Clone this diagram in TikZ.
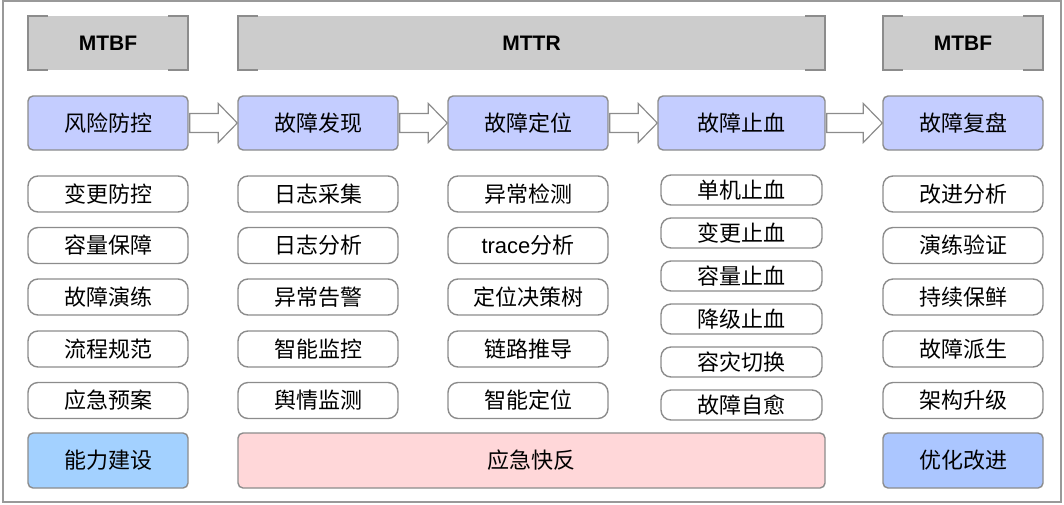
\documentclass[tikz,border=0pt]{standalone}
\usepackage{fontspec}
\setmainfont{Noto Sans CJK SC}
\newfontfamily\latfont{Liberation Sans}
\usetikzlibrary{calc}
\definecolor{bordergray}{HTML}{8C8C8C}
\definecolor{framegray}{HTML}{999999}
\definecolor{hdrgray}{HTML}{CCCCCC}
\definecolor{lavender}{HTML}{C4CDFF}
\definecolor{skyblue}{HTML}{A3D1FF}
\definecolor{periblue}{HTML}{ABC6FF}
\definecolor{pinkfill}{HTML}{FFD7D9}
\tikzset{
  base/.style={inner sep=0pt, font=\fontsize{22}{26}\selectfont, text=black},
  hdr/.style={base, fill=hdrgray, minimum height=54pt, font=\latfont\bfseries\fontsize{21}{24}\selectfont},
  hdrline/.style={draw=bordergray, line width=1.6pt},
  stage/.style={base, draw=bordergray, line width=1.4pt, fill=lavender, rounded corners=5pt, minimum width=160pt, minimum height=54pt},
  sub/.style={base, draw=bordergray, line width=1.4pt, fill=white, rounded corners=10pt, minimum width=160pt, minimum height=36pt},
  subs/.style={base, draw=bordergray, line width=1.4pt, fill=white, rounded corners=10pt, minimum width=161pt, minimum height=30pt},
  bottom/.style={base, draw=bordergray, line width=1.4pt, rounded corners=5pt, minimum height=55pt},
  barrow/.style={draw=bordergray, line width=1.2pt, fill=white, line join=miter},
}
\newcommand\blockarrow[2]{%
  \draw[barrow] ($(#1.east)+(1,-9.5)$) -- ($(#2.west)+(-19,-9.5)$) -- ($(#2.west)+(-19,-19.5)$) -- (#2.west)
    -- ($(#2.west)+(-19,19.5)$) -- ($(#2.west)+(-19,9.5)$) -- ($(#1.east)+(1,9.5)$) -- cycle;}
\newcommand\hdrborder[1]{%
  \draw[hdrline] ([xshift=20pt]#1.north west) -- (#1.north west) -- (#1.south west) -- ([xshift=20pt]#1.south west);
  \draw[hdrline] ([xshift=-20pt]#1.north east) -- (#1.north east) -- (#1.south east) -- ([xshift=-20pt]#1.south east);}
\begin{document}
\begin{tikzpicture}[x=1pt,y=-1pt]
\useasboundingbox (0,0) rectangle (1064,504);
\draw[framegray, line width=2pt] (2.5,1) rectangle (1060.5,502);
% headers
\node[hdr, minimum width=160pt] (h1) at (108,43) {MTBF};
\node[hdr, minimum width=587pt] (h2) at (531.5,43) {MTTR};
\node[hdr, minimum width=160pt] (h3) at (963,43) {MTBF};
\hdrborder{h1}\hdrborder{h2}\hdrborder{h3}
% stages
\node[stage] (s1) at (108,123) {风险防控};
\node[stage] (s2) at (318,123) {故障发现};
\node[stage] (s3) at (528,123) {故障定位};
\node[stage, minimum width=167pt] (s4) at (741.5,123) {故障止血};
\node[stage] (s5) at (963,123) {故障复盘};
\blockarrow{s1}{s2}
\blockarrow{s2}{s3}
\blockarrow{s3}{s4}
\blockarrow{s4}{s5}
% column 1
\node[sub] (a1) at (108,194) {变更防控};
\node[sub] (a2) at (108,245.5) {容量保障};
\node[sub] (a3) at (108,297) {故障演练};
\node[sub] (a4) at (108,349) {流程规范};
\node[sub] (a5) at (108,400.5) {应急预案};
% column 2
\node[sub] (b1) at (318,194) {日志采集};
\node[sub] (b2) at (318,245.5) {日志分析};
\node[sub] (b3) at (318,297) {异常告警};
\node[sub] (b4) at (318,349) {智能监控};
\node[sub] (b5) at (318,400.5) {舆情监测};
% column 3
\node[sub] (c1) at (528,194) {异常检测};
\node[sub] (c2) at (528,245.5) {{\latfont trace}分析};
\node[sub] (c3) at (528,297) {定位决策树};
\node[sub] (c4) at (528,349) {链路推导};
\node[sub] (c5) at (528,400.5) {智能定位};
% column 4
\node[subs] (d1) at (741.5,190) {单机止血};
\node[subs] (d2) at (741.5,233) {变更止血};
\node[subs] (d3) at (741.5,276) {容量止血};
\node[subs] (d4) at (741.5,319) {降级止血};
\node[subs] (d5) at (741.5,362) {容灾切换};
\node[subs] (d6) at (741.5,405) {故障自愈};
% column 5
\node[sub] (e1) at (963,194) {改进分析};
\node[sub] (e2) at (963,245.5) {演练验证};
\node[sub] (e3) at (963,297) {持续保鲜};
\node[sub] (e4) at (963,349) {故障派生};
\node[sub] (e5) at (963,400.5) {架构升级};
% bottom
\node[bottom, fill=skyblue, minimum width=160pt] (f1) at (108,460.5) {能力建设};
\node[bottom, fill=pinkfill, minimum width=587pt] (f2) at (531.5,460.5) {应急快反};
\node[bottom, fill=periblue, minimum width=160pt] (f3) at (963,460.5) {优化改进};
\end{tikzpicture}
\end{document}
